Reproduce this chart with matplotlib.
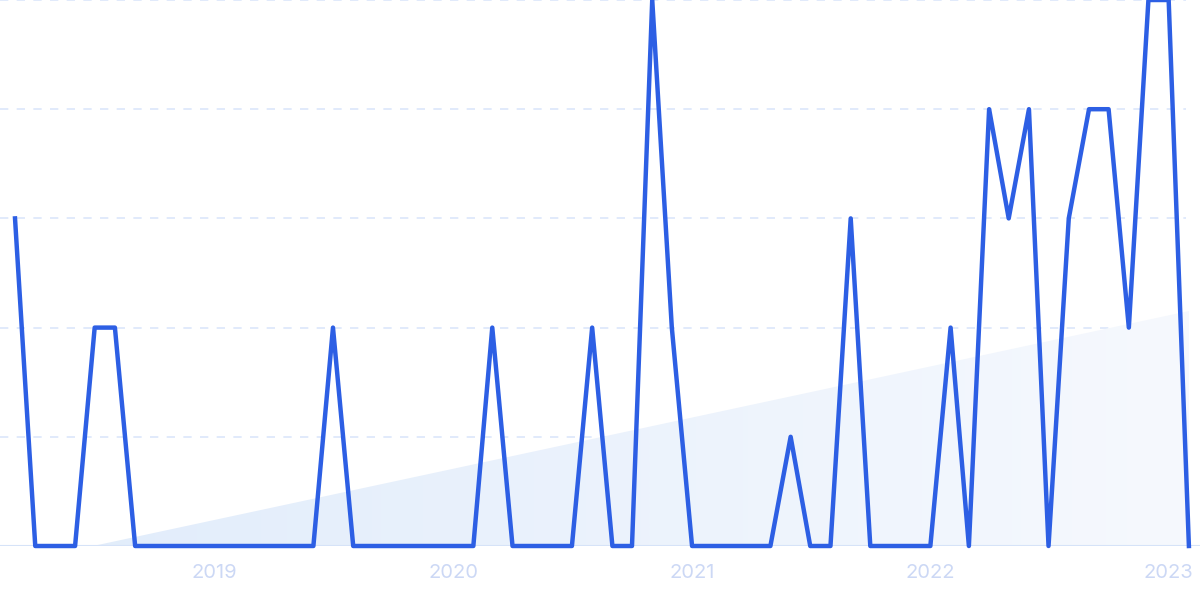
import numpy as np
import pandas as pd
import matplotlib
matplotlib.use("Agg")
import matplotlib.pyplot as plt
import matplotlib.dates as mdates
from matplotlib.patches import Polygon
from matplotlib.colors import LinearSegmentedColormap

# ---- data ----
start_month = "2018-03-01"
values = [3, 0, 0, 0, 2, 2, 0, 0, 0, 0,
          0, 0, 0, 0, 0, 0, 2, 0, 0, 0,
          0, 0, 0, 0, 2, 0, 0, 0, 0, 2,
          0, 0, 5, 2, 0, 0, 0, 0, 0, 1,
          0, 0, 3, 0, 0, 0, 0, 2, 0, 4,
          3, 4, 0, 3, 4, 4, 2, 5, 5, 0]
tick_years = ["2019", "2020", "2021", "2022", "2023"]

dates = pd.date_range(start_month, periods=len(values), freq="MS")
x = mdates.date2num(dates.to_pydatetime())
y = np.array(values, dtype=float)

LINE = "#2d5fe4"
GRID = "#dce6fb"
TICK = "#ccd8f5"

fig = plt.figure(figsize=(12, 5.99), dpi=100)
ax = fig.add_axes([0, 53 / 599, 1, 546 / 599])

xmin = x[0] - 23
xmax = x[-1] + 17
ax.set_xlim(xmin, xmax)
ax.set_ylim(0, 5)

# trend (linear regression), clipped at zero, with gradient fill
slope, intercept = np.polyfit(x, y, 1)
x0 = max(x[0], -intercept / slope) if slope > 0 else x[0]
xe = x[-1]
poly = Polygon([(x0, 0), (xe, 0), (xe, slope * xe + intercept), (x0, max(0, slope * x0 + intercept))],
               closed=True, facecolor="none", edgecolor="none")
ax.add_patch(poly)
cmap = LinearSegmentedColormap.from_list("g", [(0.886, 0.929, 0.984), (0.965, 0.976, 0.996)])
grad = np.linspace(0, 1, 256).reshape(1, -1)
im = ax.imshow(grad, cmap=cmap, aspect="auto", extent=[x0, xe, 0, 5], origin="lower", zorder=1,
               interpolation="bicubic")
im.set_clip_path(poly)

# grid
for g in [1, 2, 3, 4, 5]:
    ax.axhline(g, color=GRID, lw=1.2, ls=(0, (5, 5)), zorder=0.5, xmax=0.988)
ax.axhline(0, color="#d6e3f8", lw=1.5, zorder=1.5)

ax.plot(x, y, color=LINE, lw=3.2, zorder=3, clip_on=False, solid_joinstyle="round")

for s in ax.spines.values():
    s.set_visible(False)
ax.set_yticks([])
ticks = [mdates.date2num(pd.Timestamp(f"{yr}-01-01")) for yr in tick_years]
ax.set_xticks(ticks)
ax.set_xticklabels(tick_years, fontfamily="Inter", fontsize=14.5, color=TICK)
ax.tick_params(axis="x", length=0, pad=13)

fig.savefig("out.png", dpi=100)
